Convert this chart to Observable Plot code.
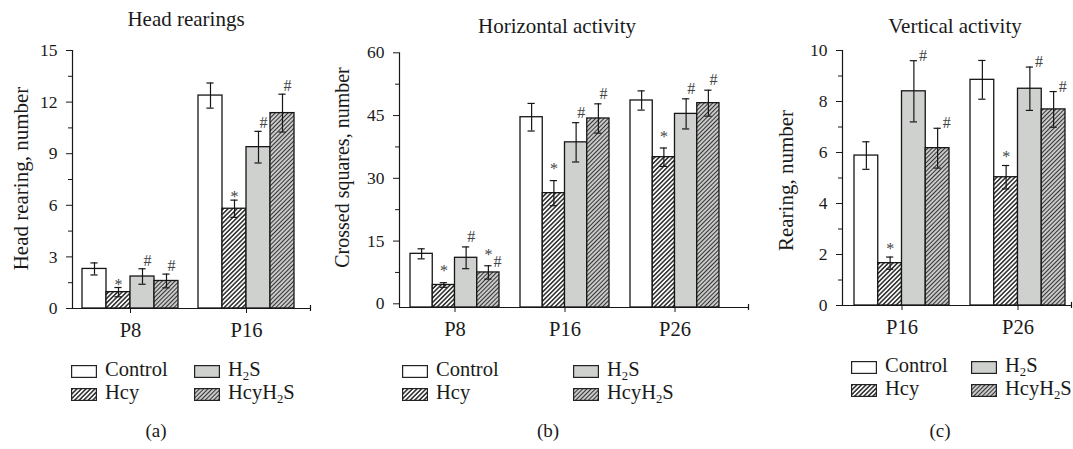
<!DOCTYPE html>
<html><head><meta charset="utf-8">
<script src="https://cdn.jsdelivr.net/npm/d3@7"></script>
<script src="https://cdn.jsdelivr.net/npm/@observablehq/plot@0.6"></script>
<style>
body{margin:0;background:#fff;}
#root{position:relative;width:1073px;height:449px;font-family:"Liberation Serif",serif;color:#1a1a1a;overflow:hidden;background:#fff;}
.abs{position:absolute;white-space:nowrap;line-height:1;}
.ctr{transform:translateX(-50%);}
sub{font-size:0.62em;vertical-align:-0.28em;line-height:0;}
#root svg, #root svg g, #root svg text{font-family:"Liberation Serif","Times New Roman",serif !important;}
</style></head>
<body>
<svg width="0" height="0" style="position:absolute">
<defs>
<pattern id="hatchHcy" patternUnits="userSpaceOnUse" width="3.2" height="3.2" patternTransform="rotate(45)">
<rect width="3.2" height="3.2" fill="#ffffff"/>
<line x1="1.6" y1="-1" x2="1.6" y2="4.2" stroke="#111" stroke-width="1.35"/>
</pattern>
<pattern id="hatchBoth" patternUnits="userSpaceOnUse" width="3" height="3" patternTransform="rotate(45)">
<rect width="3" height="3" fill="#c9c9c9"/>
<line x1="1.5" y1="-1" x2="1.5" y2="4" stroke="#333" stroke-width="1.05"/>
</pattern>
</defs>
</svg>
<div id="root"></div>
<script>
// ---------- data ----------
const series = ["Control", "Hcy", "H2S", "HcyH2S"];

// (a) Head rearings
const groupsA = ["P8", "P16"];
const meanA = [[2.3, 0.95, 1.86, 1.6], [12.38, 5.8, 9.38, 11.36]];
const errA  = [[0.35, 0.27, 0.45, 0.4], [0.73, 0.5, 0.92, 1.1]];
const markA = [["", "*", "#", "#"], ["", "*", "#", "#"]];
const ticksA = [0, 3, 6, 9, 12, 15];

// (b) Horizontal activity
const groupsB = ["P8", "P16", "P26"];
const meanB = [[11.95, 4.5, 11.0, 7.5], [44.6, 26.45, 38.6, 44.3], [48.6, 35.05, 45.4, 47.96]];
const errB  = [[1.2, 0.55, 2.6, 1.6], [3.3, 3.0, 4.7, 3.5], [2.3, 2.2, 3.6, 3.1]];
const markB = [["", "*", "#", "*#"], ["", "*", "#", "#"], ["", "*", "#", "#"]];
const ticksB = [0, 15, 30, 45, 60];

// (c) Vertical activity
const groupsC = ["P16", "P26"];
const meanC = [[5.88, 1.66, 8.4, 6.17], [8.85, 5.03, 8.5, 7.69]];
const errC  = [[0.54, 0.24, 1.2, 0.78], [0.76, 0.46, 0.85, 0.7]];
const markC = [["", "*", "#", "#"], ["", "*", "#", "#"]];
const ticksC = [0, 2, 4, 6, 8, 10];

const titles = ["Head rearings", "Horizontal activity", "Vertical activity"];
const yLabels = ["Head rearing, number", "Crossed squares, number", "Rearing, number"];
const captions = ["(a)", "(b)", "(c)"];
const seriesLabel = {Control: "Control", Hcy: "Hcy", H2S: "H<sub>2</sub>S", HcyH2S: "HcyH<sub>2</sub>S"};

// ---------- styles / layout ----------
const fillOf = {Control: "#ffffff", Hcy: "url(#hatchHcy)", H2S: "#cfd1cf", HcyH2S: "url(#hatchBoth)"};
const FONT = "'Liberation Serif', 'Times New Roman', serif";

const panels = [
  {groups: groupsA, means: meanA, errs: errA, marks: markA, ticks: ticksA, yDomain: [0, 15],
   left: 0, width: 330, height: 345, marginLeft: 72, marginRight: 20, marginTop: 50, marginBottom: 37,
   barPx: 24, firstBarPx: 82, stepPx: 116, labelX: 13, labelCY: 178, labelSize: 21,
   starGap: 2.5, hashGap: 3, hashDx: 5,
   title: {cx: 186, base: 27}, legend: {c1: 71, c2: 194, r1: 376, r2: 399}, caption: {cx: 156, base: 437}},
  {groups: groupsB, means: meanB, errs: errB, marks: markB, ticks: ticksB, yDomain: [-0.88, 60],
   left: 330, width: 420, height: 345, marginLeft: 69, marginRight: 2, marginTop: 52.3, marginBottom: 38,
   barPx: 22.25, firstBarPx: 410, stepPx: 110, labelX: 334, labelCY: 167, labelSize: 20,
   starGap: 11, hashGap: 5, hashDx: 5,
   title: {cx: 557, base: 33.5}, legend: {c1: 402, c2: 573, r1: 376, r2: 399}, caption: {cx: 548, base: 437}},
  {groups: groupsC, means: meanC, errs: errC, marks: markC, ticks: ticksC, yDomain: [0, 10],
   left: 760, width: 313, height: 345, marginLeft: 82, marginRight: 2, marginTop: 50, marginBottom: 40,
   barPx: 23.75, firstBarPx: 854, stepPx: 116, labelX: 778, labelCY: 180, labelSize: 21,
   starGap: 8, hashGap: 0, hashDx: 9,
   title: {cx: 955, base: 33.5}, legend: {c1: 851, c2: 971, r1: 372, r2: 395}, caption: {cx: 940, base: 437}}
];

const root = document.getElementById("root");

function addText(html, left, baseline, size, center) {
  const d = document.createElement("div");
  d.className = "abs" + (center ? " ctr" : "");
  d.style.left = left + "px";
  d.style.top = (baseline - 0.8375 * size) + "px";
  d.style.fontSize = size + "px";
  d.style.height = size + "px";
  d.innerHTML = html;
  root.appendChild(d);
}

function addSwatch(s, left, baseline) {
  const d = document.createElement("div");
  d.className = "abs";
  d.style.left = left + "px";
  d.style.top = (baseline - 11) + "px";
  d.innerHTML = `<svg width="26" height="13"><rect x="0.6" y="0.6" width="24.8" height="11.8" fill="${fillOf[s]}" stroke="#222" stroke-width="1.2"/></svg>`;
  root.appendChild(d);
}

panels.forEach((cfg, pi) => {
  const {groups, means, errs, marks, ticks} = cfg;
  const y0 = cfg.yDomain[0];
  const stepU = cfg.stepPx / cfg.barPx;
  const firstLocal = cfg.firstBarPx - cfg.left;
  const xMin = (cfg.marginLeft - firstLocal) / cfg.barPx;
  const xMax = (cfg.width - cfg.marginRight - firstLocal) / cfg.barPx;
  const rows = [];
  groups.forEach((g, gi) => series.forEach((s, si) => {
    const x1 = gi * stepU + si;
    rows.push({group: g, series: s, x1, x2: x1 + 1, c: x1 + 0.5,
      mean: means[gi][si], err: errs[gi][si], mark: marks[gi][si]});
  }));
  const centers = groups.map((g, gi) => gi * stepU + 2);
  const labelOf = new Map(centers.map((c, i) => [c, groups[i]]));
  const minor = ticks.slice(1).map((t, i) => (t + ticks[i]) / 2);
  const capU = 3.6 / cfg.barPx;
  const frameMid = cfg.marginTop + (cfg.height - cfg.marginTop - cfg.marginBottom) / 2;
  const top = d => d.mean + d.err;
  const ink = "#161616";

  const svg = Plot.plot({
    width: cfg.width, height: cfg.height,
    marginLeft: cfg.marginLeft, marginRight: cfg.marginRight,
    marginTop: cfg.marginTop, marginBottom: cfg.marginBottom,
    x: {type: "linear", domain: [xMin, xMax]},
    y: {domain: cfg.yDomain},
    color: {type: "identity"},
    style: {fontFamily: FONT, background: "transparent", color: "#1a1a1a", overflow: "visible"},
    marks: [
      Plot.rectY(rows, {x1: "x1", x2: "x2", y1: () => y0, y2: "mean",
        fill: d => fillOf[d.series], stroke: ink, strokeWidth: 1.3}),
      Plot.ruleX(rows, {x: "c", y1: d => d.mean - d.err, y2: top, stroke: ink, strokeWidth: 1.2}),
      Plot.ruleY(rows, {y: top, x1: d => d.c - capU, x2: d => d.c + capU, stroke: ink, strokeWidth: 1.2}),
      Plot.ruleY(rows, {y: d => d.mean - d.err, x1: d => d.c - capU, x2: d => d.c + capU, stroke: ink, strokeWidth: 1.2}),
      Plot.text(rows.filter(d => d.mark.includes("*")), {x: "c", y: top, text: () => "*",
        fontSize: 16, fontFamily: FONT, fill: "#444", dy: -cfg.starGap - 0.32}),
      Plot.text(rows.filter(d => d.mark === "#"), {x: "c", y: top, text: () => "#",
        fontSize: 16, fontFamily: FONT, fill: "#444", dx: cfg.hashDx, dy: -cfg.hashGap - 5.12}),
      Plot.text(rows.filter(d => d.mark === "*#"), {x: "c", y: top, text: () => "#",
        fontSize: 16, fontFamily: FONT, fill: "#444", dx: cfg.hashDx + 4, dy: 1 - 5.12}),
      Plot.axisY({ticks: ticks, tickSize: 6, tickPadding: 9, fontSize: 17.5, fontFamily: FONT, label: null}),
      Plot.axisY({ticks: minor, tickSize: 4, tickFormat: () => "", label: null}),
      Plot.axisX({ticks: centers, tickSize: 5, tickPadding: 9, fontSize: 20.5, fontFamily: FONT, label: null,
        tickFormat: d => labelOf.get(d)}),
      Plot.ruleX([xMin], {stroke: ink, strokeWidth: 1.2}),
      Plot.ruleY([y0], {stroke: ink, strokeWidth: 1.2}),
      Plot.ruleX([xMax], {y1: y0, y2: y0, insetTop: -3, insetBottom: -3, stroke: ink, strokeWidth: 1.2}),
      Plot.text([yLabels[pi]], {frameAnchor: "left", text: d => d, rotate: -90, lineAnchor: "top",
        textAnchor: "middle", fontSize: cfg.labelSize, fontFamily: FONT, fill: "#1a1a1a",
        dx: cfg.labelX - cfg.left - cfg.marginLeft, dy: cfg.labelCY - frameMid})
    ]
  });
  svg.style.position = "absolute";
  svg.style.left = cfg.left + "px";
  svg.style.top = "0px";
  svg.style.maxWidth = "none";
  svg.style.fontFamily = FONT;
  root.appendChild(svg);

  // title
  addText(titles[pi], cfg.title.cx, cfg.title.base, 21, true);
  // legend
  const L = cfg.legend;
  const pos = [[L.c1, L.r1], [L.c1, L.r2], [L.c2, L.r1], [L.c2, L.r2]];
  series.forEach((s, si) => {
    const [lx, base] = pos[si];
    addSwatch(s, lx, base);
    addText(seriesLabel[s], lx + 34, base, 20.5, false);
  });
  // caption
  addText(captions[pi], cfg.caption.cx, cfg.caption.base, 19, true);
});
</script>
</body></html>
